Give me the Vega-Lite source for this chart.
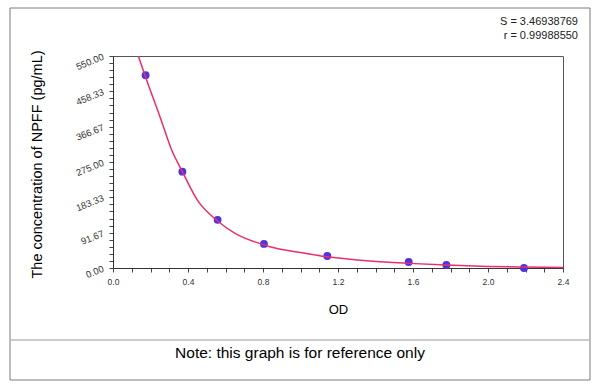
{
  "$schema": "https://vega.github.io/schema/vega-lite/v6.json",
  "width": 450,
  "height": 212,
  "autosize": {"type": "none"},
  "padding": {"left": 113, "top": 56, "right": 37, "bottom": 121},
  "background": "white",
  "resolve": {"axis": {"x": "independent", "y": "independent"}},
  "config": {
    "font": "Liberation Sans",
    "view": {"stroke": "#555555", "strokeWidth": 1},
    "axis": {"grid": false, "domainColor": "#333333", "tickColor": "#444444", "labelColor": "#333333", "labelFont": "Liberation Sans", "titleFont": "Liberation Sans", "labelOverlap": false, "labelFlush": false, "labelBound": false}
  },
  "datasets": {
    "points": [
      {"od": 0.174, "conc": 500},
      {"od": 0.370, "conc": 250},
      {"od": 0.558, "conc": 125},
      {"od": 0.805, "conc": 62.5},
      {"od": 1.143, "conc": 31.25},
      {"od": 1.577, "conc": 15.6},
      {"od": 1.778, "conc": 7.8},
      {"od": 2.192, "conc": 0}
    ],
    "curve": [
      {"od": 0.135, "conc": 550},
      {"od": 0.174, "conc": 495},
      {"od": 0.251, "conc": 392},
      {"od": 0.313, "conc": 306},
      {"od": 0.370, "conc": 250},
      {"od": 0.450, "conc": 176},
      {"od": 0.558, "conc": 122},
      {"od": 0.651, "conc": 90},
      {"od": 0.805, "conc": 60},
      {"od": 0.837, "conc": 55},
      {"od": 1.0, "conc": 40},
      {"od": 1.143, "conc": 29},
      {"od": 1.371, "conc": 18},
      {"od": 1.577, "conc": 12},
      {"od": 1.778, "conc": 7.5},
      {"od": 2.0, "conc": 4},
      {"od": 2.192, "conc": 2.5},
      {"od": 2.4, "conc": 1.5}
    ]
  },
  "layer": [
    {
      "data": {"name": "points"},
      "mark": {"type": "circle", "size": 62, "color": "#4f32e0", "opacity": 1},
      "encoding": {
        "x": {
          "field": "od", "type": "quantitative",
          "scale": {"domain": [0, 2.4], "nice": false},
          "axis": {
            "title": "OD",
            "titleFontSize": 13, "titleFontWeight": "normal", "titleColor": "#000000",
            "titleX": 225, "titleY": 41, "titleBaseline": "middle",
            "values": [0, 0.1, 0.2, 0.3, 0.4, 0.5, 0.6, 0.7, 0.8, 0.9, 1.0, 1.1, 1.2, 1.3, 1.4, 1.5, 1.6, 1.7, 1.8, 1.9, 2.0, 2.1, 2.2, 2.3, 2.4],
            "labelExpr": "abs(datum.value/0.4 - round(datum.value/0.4)) < 0.01 ? format(datum.value, '.1f') : ''",
            "labelFontSize": 8.5, "labelPadding": 5, "tickSize": 4
          }
        },
        "y": {
          "field": "conc", "type": "quantitative",
          "scale": {"domain": [0, 550], "nice": false},
          "axis": {
            "title": "The concentration of NPFF (pg/mL)",
            "titleFontSize": 14.5, "titleFontWeight": "normal", "titleColor": "#000000",
            "titleX": -76, "titleY": 108, "titleAngle": 270, "titleBaseline": "middle", "titleAlign": "center",
            "values": [0, 18.3333, 36.6667, 55, 73.3333, 91.6667, 110, 128.3333, 146.6667, 165, 183.3333, 201.6667, 220, 238.3333, 256.6667, 275, 293.3333, 311.6667, 330, 348.3333, 366.6667, 385, 403.3333, 421.6667, 440, 458.3333, 476.6667, 495, 513.3333, 531.6667, 550],
            "labelExpr": "abs(datum.value/91.66667 - round(datum.value/91.66667)) < 0.01 ? format(datum.value, '.2f') : ''",
            "labelFontSize": 9.5, "labelPadding": 6, "tickSize": 4,
            "labelAngle": -22, "labelAlign": "right", "labelBaseline": "middle"
          }
        }
      }
    },
    {
      "data": {"name": "curve"},
      "mark": {"type": "line", "color": "#ea2f6b", "strokeWidth": 1.5, "interpolate": "monotone"},
      "encoding": {
        "x": {"field": "od", "type": "quantitative", "axis": null},
        "y": {"field": "conc", "type": "quantitative", "axis": null}
      }
    },
    {
      "data": {"values": [{}]},
      "mark": {"type": "rect", "fill": "transparent", "stroke": "#7a7a7a", "strokeWidth": 1},
      "encoding": {
        "x": {"datum": -0.5493, "type": "quantitative", "axis": null},
        "x2": {"datum": 2.544},
        "y": {"datum": 674.5, "type": "quantitative", "axis": null},
        "y2": {"datum": -290.6}
      }
    },
    {
      "data": {"values": [{}]},
      "mark": {"type": "rule", "stroke": "#bbbbbb", "strokeWidth": 1.5},
      "encoding": {
        "x": {"datum": -0.5493, "type": "quantitative", "axis": null},
        "x2": {"datum": 2.544},
        "y": {"datum": -186.8, "type": "quantitative", "axis": null}
      }
    },
    {
      "data": {"values": [{}]},
      "mark": {"type": "text", "text": "S = 3.46938769", "align": "right", "baseline": "middle", "fontSize": 11, "color": "#222222"},
      "encoding": {
        "x": {"datum": 2.48, "type": "quantitative", "axis": null},
        "y": {"datum": 638.2, "type": "quantitative", "axis": null}
      }
    },
    {
      "data": {"values": [{}]},
      "mark": {"type": "text", "text": "r = 0.99988550", "align": "right", "baseline": "middle", "fontSize": 11, "color": "#222222"},
      "encoding": {
        "x": {"datum": 2.48, "type": "quantitative", "axis": null},
        "y": {"datum": 601.9, "type": "quantitative", "axis": null}
      }
    },
    {
      "data": {"values": [{}]},
      "mark": {"type": "text", "text": "Note: this graph is for reference only", "align": "center", "baseline": "middle", "fontSize": 15.5, "color": "#000000"},
      "encoding": {
        "x": {"datum": 0.9973, "type": "quantitative", "axis": null},
        "y": {"datum": -220.5, "type": "quantitative", "axis": null}
      }
    }
  ]
}
